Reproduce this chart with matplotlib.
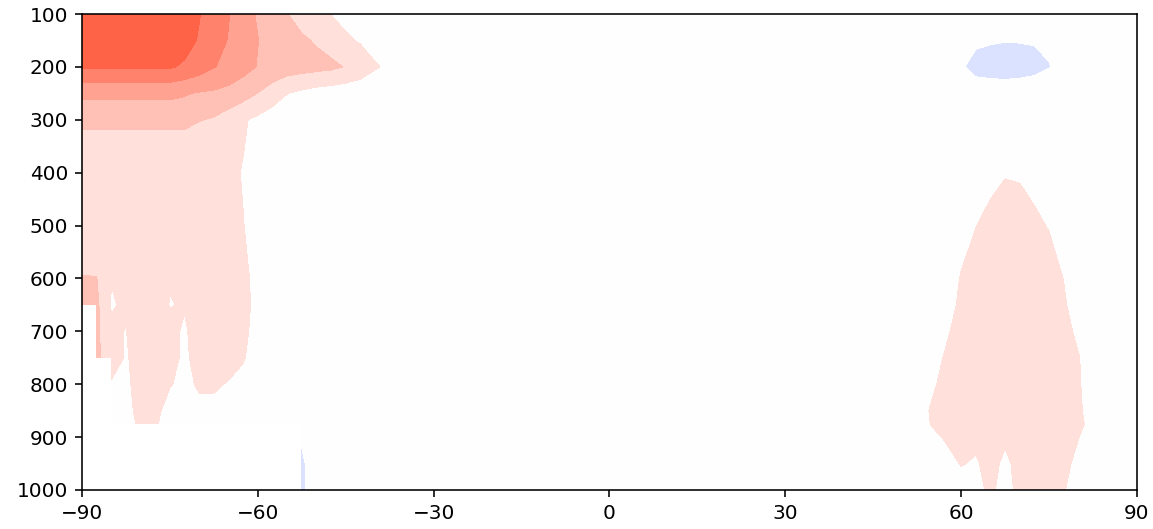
import numpy as np
import matplotlib
matplotlib.use("Agg")
import matplotlib.pyplot as plt

N = np.nan  # below ground

# Latitude nodes (deg) and pressure levels (hPa)
lat_south = [-90, -87.5, -85, -82.5, -80, -77.5, -75, -72.5, -70, -67.5, -65, -62.5,
             -60, -57.5, -55, -52.5, -50, -47.5, -45, -42.5, -40, -37.5, -35]
lat_mid = [-30, 0, 30, 40]
lat_north = [45, 47.5, 50, 52.5, 55, 57.5, 60, 62.5, 65, 67.5, 70, 72.5, 75, 77.5,
             80, 82.5, 85, 87.5, 90]
pressure = [100, 150, 200, 250, 300, 350, 400, 500, 600, 650, 700, 750, 800, 850,
            875, 900, 950, 1000]

# values, one row per pressure level
south_vals = [
    [6.8, 6.8, 6.7, 6.6, 6.5, 6.3, 6.0, 5.6, 5.05, 4.5, 4.05, 3.4, 2.9, 2.5, 2.02, 1.6, 1.25, 0.98, 0.7, 0.5, 0.4, 0.2, 0.1],
    [6.6, 6.6, 6.5, 6.4, 6.3, 6.1, 5.8, 5.4, 4.9, 4.4, 3.95, 3.5, 3.02, 2.7, 2.4, 2.15, 1.9, 1.6, 1.15, 0.9, 0.6, 0.3, 0.1],
    [5.1, 5.1, 5.1, 5.1, 5.1, 5.1, 5.1, 4.85, 4.5, 4.05, 3.7, 3.35, 2.95, 2.7, 2.5, 2.4, 2.3, 2.2, 1.95, 1.6, 1.1, 0.8, 0.4],
    [3.2, 3.2, 3.2, 3.2, 3.2, 3.2, 3.2, 3.08, 2.92, 2.85, 2.7, 2.4, 1.98, 1.5, 1.02, 0.8, 0.6, 0.5, 0.4, 0.3, 0.2, 0.1, 0.0],
    [2.4, 2.4, 2.4, 2.4, 2.4, 2.4, 2.4, 2.4, 2.05, 1.9, 1.5, 1.1, 0.8, 0.5, 0.3, 0.2, 0.2, 0.1, 0.1, 0.1, 0.0, 0.0, 0.0],
    [1.35, 1.35, 1.3, 1.3, 1.3, 1.3, 1.3, 1.3, 1.3, 1.25, 1.2, 1.03, 0.7, 0.4, 0.3, 0.2, 0.1, 0.1, 0.1, 0.0, 0.0, 0.0, 0.0],
    [1.3, 1.3, 1.3, 1.3, 1.3, 1.3, 1.3, 1.3, 1.3, 1.25, 1.2, 0.95, 0.6, 0.4, 0.3, 0.2, 0.1, 0.1, 0.0, 0.0, 0.0, 0.0, 0.0],
    [1.3, 1.4, 1.35, 1.35, 1.35, 1.35, 1.35, 1.35, 1.3, 1.3, 1.25, 1.02, 0.7, 0.4, 0.3, 0.2, 0.1, 0.1, 0.0, 0.0, 0.0, 0.0, 0.0],
    [2.05, 2.02, 1.02, 1.2, 1.4, 1.4, 1.05, 1.3, 1.35, 1.35, 1.3, 1.15, 0.8, 0.4, 0.3, 0.2, 0.1, 0.1, 0.0, 0.0, 0.0, 0.0, 0.0],
    [2.2, 2.2, 0.94, 1.1, 1.4, 1.35, 0.97, 1.05, 1.35, 1.35, 1.3, 1.2, 0.8, 0.4, 0.3, 0.2, 0.1, 0.1, 0.0, 0.0, 0.0, 0.0, 0.0],
    [N, 2.2, 1.1, 0.98, 1.4, 1.35, 1.2, 0.9, 1.35, 1.3, 1.3, 1.15, 0.75, 0.4, 0.3, 0.2, 0.1, 0.1, 0.0, 0.0, 0.0, 0.0, 0.0],
    [N, 2.2, 1.5, 0.9, 1.4, 1.35, 1.25, 0.85, 1.3, 1.3, 1.3, 1.05, 0.7, 0.4, 0.3, 0.2, 0.1, 0.1, 0.0, 0.0, 0.0, 0.0, 0.0],
    [N, N, 0.9, 0.85, 1.3, 1.3, 1.05, 0.8, 1.1, 1.1, 0.95, 0.8, 0.6, 0.4, 0.3, 0.2, 0.1, 0.1, 0.0, 0.0, 0.0, 0.0, 0.0],
    [N, N, 0.6, 0.8, 1.2, 1.2, 0.7, 0.7, 0.8, 0.8, 0.7, 0.6, 0.5, 0.4, 0.3, 0.2, 0.1, 0.1, 0.0, 0.0, 0.0, 0.0, 0.0],
    [N, N, 0.5, 0.8, 1.1, 1.1, 0.6, 0.6, 0.7, 0.7, 0.6, 0.5, 0.4, 0.3, 0.2, 0.2, 0.1, 0.1, 0.0, 0.0, 0.0, 0.0, 0.0],
    [N, N, N, N, N, N, N, N, N, N, N, N, N, N, N, -0.8, 0.0, 0.1, 0.1, 0.0, 0.0, 0.0, 0.0],
    [N, N, N, N, N, N, N, N, N, N, N, N, N, N, N, -1.3, 0.0, 0.1, 0.1, 0.0, 0.0, 0.0, 0.0],
    [N, N, N, N, N, N, N, N, N, N, N, N, N, N, N, -1.4, 0.0, 0.1, 0.1, 0.0, 0.0, 0.0, 0.0],
]

mid_vals = [
    [0.0, 0.0, 0.0, -0.1],
    [0.0, 0.0, 0.0, -0.1],
    [0.0, 0.0, 0.0, -0.1],
    [0.0, 0.0, 0.0, 0.0],
    [0.0, 0.0, 0.0, 0.0],
    [0.0, 0.0, 0.0, 0.0],
    [0.0, 0.0, 0.0, 0.0],
    [0.0, 0.0, 0.0, 0.1],
    [0.0, 0.0, 0.0, 0.1],
    [0.0, 0.0, 0.0, 0.1],
    [0.0, 0.0, 0.0, 0.1],
    [0.0, 0.0, 0.0, 0.1],
    [0.0, 0.0, 0.0, 0.1],
    [0.0, 0.0, 0.0, 0.1],
    [0.0, 0.0, 0.0, 0.1],
    [0.0, 0.0, 0.0, 0.1],
    [0.0, 0.0, 0.0, 0.1],
    [0.0, 0.0, 0.0, 0.1],
]

north_vals = [
    [-0.1, -0.1, -0.2, -0.2, -0.2, -0.3, -0.3, -0.4, -0.4, -0.4, -0.4, -0.4, -0.4, -0.3, -0.3, -0.2, -0.2, -0.2, -0.2],
    [-0.2, -0.2, -0.3, -0.3, -0.4, -0.5, -0.6, -0.85, -0.92, -0.97, -0.95, -0.9, -0.8, -0.6, -0.4, -0.3, -0.3, -0.2, -0.2],
    [-0.2, -0.3, -0.4, -0.5, -0.6, -0.75, -0.9, -1.3, -1.4, -1.45, -1.45, -1.4, -1.05, -0.6, -0.4, -0.3, -0.2, -0.1, -0.1],
    [-0.1, -0.2, -0.2, -0.3, -0.3, -0.4, -0.4, -0.5, -0.5, -0.5, -0.4, -0.2, -0.2, -0.2, -0.1, -0.1, -0.1, 0.0, 0.0],
    [0.0, 0.0, 0.0, 0.1, 0.1, 0.1, 0.2, 0.2, 0.3, 0.3, 0.3, 0.2, 0.2, 0.1, 0.1, 0.0, 0.0, 0.0, 0.0],
    [0.0, 0.1, 0.1, 0.1, 0.2, 0.2, 0.3, 0.4, 0.5, 0.6, 0.6, 0.5, 0.4, 0.3, 0.2, 0.1, 0.1, 0.0, 0.0],
    [0.1, 0.2, 0.3, 0.3, 0.4, 0.5, 0.6, 0.7, 0.8, 0.92, 0.85, 0.75, 0.6, 0.5, 0.4, 0.3, 0.2, 0.1, 0.1],
    [0.2, 0.3, 0.4, 0.5, 0.5, 0.6, 0.7, 0.98, 1.2, 1.6, 1.6, 1.15, 0.95, 0.7, 0.5, 0.4, 0.3, 0.2, 0.2],
    [0.2, 0.3, 0.4, 0.5, 0.55, 0.6, 1.05, 1.4, 1.6, 1.6, 1.6, 1.6, 1.4, 0.98, 0.6, 0.4, 0.3, 0.2, 0.2],
    [0.2, 0.3, 0.4, 0.5, 0.6, 0.7, 1.15, 1.4, 1.6, 1.6, 1.6, 1.6, 1.5, 1.1, 0.6, 0.4, 0.3, 0.2, 0.2],
    [0.2, 0.3, 0.4, 0.5, 0.6, 0.9, 1.3, 1.5, 1.6, 1.6, 1.6, 1.6, 1.5, 1.3, 0.8, 0.5, 0.3, 0.2, 0.2],
    [0.2, 0.3, 0.4, 0.5, 0.7, 1.1, 1.4, 1.5, 1.6, 1.6, 1.6, 1.6, 1.5, 1.4, 1.05, 0.5, 0.3, 0.2, 0.2],
    [0.2, 0.3, 0.4, 0.6, 0.85, 1.3, 1.4, 1.5, 1.6, 1.6, 1.6, 1.6, 1.5, 1.4, 1.1, 0.5, 0.3, 0.2, 0.2],
    [0.2, 0.3, 0.4, 0.6, 1.1, 1.3, 1.4, 1.5, 1.5, 1.5, 1.6, 1.6, 1.5, 1.4, 1.15, 0.6, 0.3, 0.2, 0.2],
    [0.2, 0.3, 0.4, 0.6, 1.05, 1.2, 1.3, 1.4, 1.4, 1.4, 1.5, 1.5, 1.5, 1.4, 1.2, 0.7, 0.3, 0.2, 0.2],
    [0.2, 0.3, 0.4, 0.5, 0.8, 1.1, 1.2, 1.2, 1.3, 1.15, 1.4, 1.4, 1.4, 1.3, 1.02, 0.6, 0.3, 0.2, 0.2],
    [0.2, 0.3, 0.3, 0.4, 0.6, 0.7, 1.05, 0.9, 1.3, 0.8, 1.3, 1.3, 1.3, 1.2, 0.8, 0.5, 0.3, 0.2, 0.2],
    [0.2, 0.2, 0.3, 0.3, 0.4, 0.5, 0.6, 0.7, 1.2, 0.6, 1.3, 1.3, 1.3, 1.05, 0.6, 0.4, 0.3, 0.2, 0.2],
]

levels = [-2, -1, 1, 2, 3, 4, 5, 7]
colors = ['#dbe2ff', '#fefefe', '#ffe0da', '#ffc1b6', '#ffa291', '#ff836c', '#ff6347']

lat = np.array(lat_south + lat_mid + lat_north, dtype=float)
p = np.array(pressure, dtype=float)
field = np.hstack([np.array(south_vals), np.array(mid_vals), np.array(north_vals)])
field = np.ma.masked_invalid(field)

fig = plt.figure(figsize=(1153 / 144, 529 / 144), dpi=144)
ax = fig.add_axes([82 / 1153, 1 - 490 / 529, (1137 - 82) / 1153, (490 - 14) / 529])
ax.contourf(lat, p, field, levels=levels, colors=colors, corner_mask=False)

ax.set_xlim(-90, 90)
ax.set_ylim(1000, 100)
ax.set_xticks([-90, -60, -30, 0, 30, 60, 90])
ax.set_yticks([100, 200, 300, 400, 500, 600, 700, 800, 900, 1000])

fig.savefig("out.png", dpi=144)
